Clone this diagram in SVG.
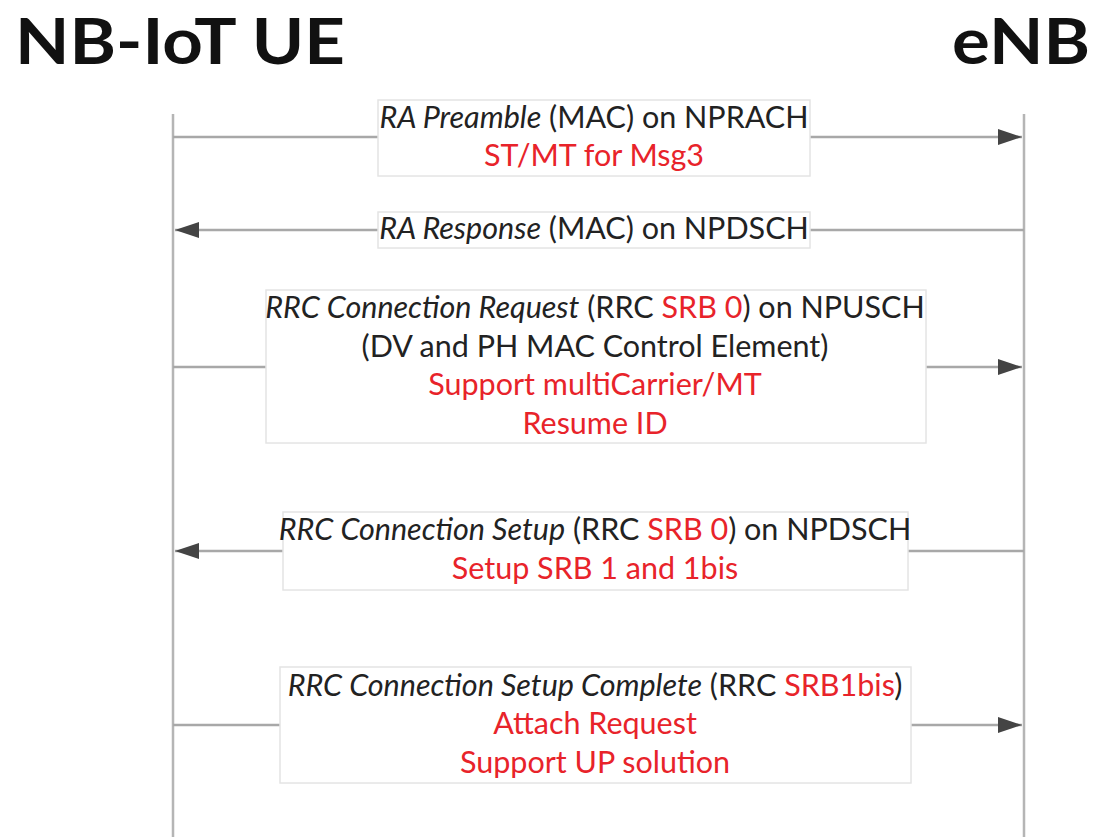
<svg xmlns="http://www.w3.org/2000/svg" width="1094" height="837" viewBox="0 0 1094 837">
<style>
.title{font-family:"Lato","Liberation Sans",sans-serif;font-weight:bold;font-size:64px;fill:#111}
.lbl{font-family:"Lato","Liberation Sans",sans-serif;font-size:30.5px;fill:#222;text-anchor:middle}
.red{fill:#e8232a}
.it{font-style:italic}
.life{stroke:#b5b5b5;stroke-width:2.5;fill:none}
.msg{stroke:#a8a8a8;stroke-width:2.5;fill:none}
.box{fill:#fff;stroke:#e4e4e4;stroke-width:1.5}
</style>
<defs>
<marker id="ah" viewBox="0 0 24 16" refX="24" refY="8" markerWidth="24" markerHeight="16" markerUnits="userSpaceOnUse" orient="auto">
<path d="M0,0 L24,8 L0,16 Z" fill="#444"/>
</marker>
</defs>
<rect width="1094" height="837" fill="#fff"/>
<g id="ue"><text class="title" x="15" y="64" textLength="330" lengthAdjust="spacingAndGlyphs">NB-IoT UE</text><line class="life" x1="173" y1="114" x2="173" y2="837"/></g>
<g id="enb"><text class="title" x="952" y="64" textLength="138" lengthAdjust="spacingAndGlyphs">eNB</text><line class="life" x1="1024" y1="114" x2="1024" y2="837"/></g>
<g id="connectors">
<line class="msg" x1="173" y1="137" x2="1022" y2="137" marker-end="url(#ah)"/>
<line class="msg" x1="1024" y1="230" x2="175" y2="230" marker-end="url(#ah)"/>
<line class="msg" x1="173" y1="367" x2="1022" y2="367" marker-end="url(#ah)"/>
<line class="msg" x1="1024" y1="551" x2="175" y2="551" marker-end="url(#ah)"/>
<line class="msg" x1="173" y1="725" x2="1022" y2="725" marker-end="url(#ah)"/>
</g>
<g id="m1"><rect class="box" x="378" y="100" width="432" height="76"/>
<text class="lbl" x="594" y="128"><tspan class="it">RA Preamble</tspan> (MAC) on NPRACH</text>
<text class="lbl red" x="594" y="166">ST/MT for Msg3</text></g>
<g id="m2"><rect class="box" x="378" y="212" width="432" height="36"/>
<text class="lbl" x="594" y="239"><tspan class="it">RA Response</tspan> (MAC) on NPDSCH</text></g>
<g id="m3"><rect class="box" x="266" y="290" width="660" height="153"/>
<text class="lbl" x="595" y="318"><tspan class="it">RRC Connection Request</tspan> (RRC <tspan class="red">SRB 0</tspan>) on NPUSCH</text>
<text class="lbl" x="595" y="357">(DV and PH MAC Control Element)</text>
<text class="lbl red" x="595" y="395">Support multiCarrier/MT</text>
<text class="lbl red" x="595" y="434">Resume ID</text></g>
<g id="m4"><rect class="box" x="283" y="512" width="625" height="78"/>
<text class="lbl" x="595" y="540"><tspan class="it">RRC Connection Setup</tspan> (RRC <tspan class="red">SRB 0</tspan>) on NPDSCH</text>
<text class="lbl red" x="595" y="579">Setup SRB 1 and 1bis</text></g>
<g id="m5"><rect class="box" x="280" y="667" width="631" height="116"/>
<text class="lbl" x="595" y="696"><tspan class="it">RRC Connection Setup Complete</tspan> (RRC <tspan class="red">SRB1bis</tspan>)</text>
<text class="lbl red" x="595" y="734">Attach Request</text>
<text class="lbl red" x="595" y="773">Support UP solution</text></g>
</svg>
